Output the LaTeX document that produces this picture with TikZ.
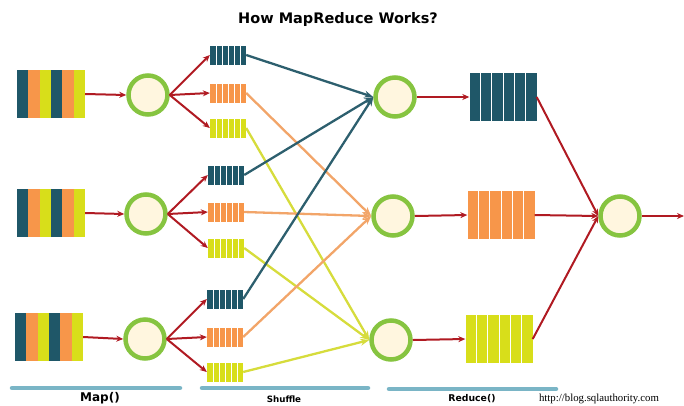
\documentclass[tikz,border=0pt]{standalone}
\usepackage{fontspec}
\newfontfamily\dejavu{DejaVu Sans}
\newfontfamily\libserif{Liberation Serif}
\usetikzlibrary{arrows.meta,calc}
\definecolor{cteal}{RGB}{31,87,104}
\definecolor{corange}{RGB}{247,150,74}
\definecolor{cyellow}{RGB}{216,222,26}
\definecolor{cgreen}{RGB}{134,196,64}
\definecolor{ccream}{RGB}{255,246,223}
\definecolor{cred}{RGB}{176,26,34}
\definecolor{cbar}{RGB}{122,181,198}
\definecolor{lteal}{RGB}{45,95,110}
\definecolor{lorange}{RGB}{242,165,105}
\definecolor{lyellow}{RGB}{214,220,60}
\begin{document}
\begin{tikzpicture}[x=1pt,y=-1pt,
  inblock/.style={minimum width=68pt, minimum height=48pt, inner sep=0pt,
    path picture={
      \foreach \c [count=\i from 0] in {cteal,corange,cyellow,cteal,corange,cyellow}
        \fill[\c] ($(path picture bounding box.north west)!{\i/6}!(path picture bounding box.north east)$)
          rectangle ($(path picture bounding box.south west)!{(\i+1)/6}!(path picture bounding box.south east)$);
    }},
  qbox/.style={fill=#1, minimum width=36pt, minimum height=19pt, inner sep=0pt,
    path picture={
      \foreach \i in {1,...,5}
        \draw[white, line width=1pt] ($(path picture bounding box.north west)!{\i/6}!(path picture bounding box.north east)$)
          -- ($(path picture bounding box.south west)!{\i/6}!(path picture bounding box.south east)$);
    }},
  rbox/.style={qbox=#1, minimum width=67pt, minimum height=48pt},
  procc/.style={circle, draw=cgreen, line width=4.5pt, fill=ccream, minimum size=39pt, inner sep=0pt},
  redarrow/.style={draw=cred, line width=2pt, -{Stealth[length=7pt,width=6pt]}},
  shufline/.style={draw=#1, line width=2.3pt, -{Stealth[length=9pt,width=7pt]}},
  bar/.style={draw=cbar, line width=4.5pt, line cap=round},
  lbl/.style={font=\dejavu\bfseries, inner sep=0pt}
]
\useasboundingbox (0,0) rectangle (684,405);
% title
\node[lbl, font=\dejavu\bfseries\fontsize{14.5}{16}\selectfont] (title) at (338,19) {How MapReduce Works?};
% inputs
\node[inblock] (in1) at (51,94) {};
\node[inblock] (in2) at (51,213) {};
\node[inblock] (in3) at (49,337) {};
% map circles
\node[procc] (m1) at (148,95) {};
\node[procc] (m2) at (146,214) {};
\node[procc] (m3) at (145,339) {};
% shuffle boxes
\node[qbox=cteal] (s11) at (228,55) {};
\node[qbox=corange] (s12) at (228,93) {};
\node[qbox=cyellow] (s13) at (228,128) {};
\node[qbox=cteal] (s21) at (226,175) {};
\node[qbox=corange] (s22) at (226,212) {};
\node[qbox=cyellow] (s23) at (226,248) {};
\node[qbox=cteal] (s31) at (225,299) {};
\node[qbox=corange] (s32) at (225,337) {};
\node[qbox=cyellow] (s33) at (225,372) {};
% reduce circles
\node[procc] (r1) at (395,97) {};
\node[procc] (r2) at (393,216) {};
\node[procc] (r3) at (391,340) {};
% reduce boxes
\node[rbox=cteal] (b1) at (503,97) {};
\node[rbox=corange] (b2) at (501,215) {};
\node[rbox=cyellow] (b3) at (499,339) {};
% final
\node[procc] (f) at (620,216) {};
\coordinate (out) at (684,216);
% shuffle lines
\foreach \g in {1,2,3} {
  \draw[shufline=lteal] (s\g1.east) -- (r1.west);
  \draw[shufline=lorange] (s\g2.east) -- (r2.west);
  \draw[shufline=lyellow] (s\g3.east) -- (r3.west);
}
% red arrows
\foreach \g in {1,2,3} {
  \draw[redarrow] (in\g.east) -- (m\g.west);
  \draw[redarrow] (m\g.east) -- (s\g1.west);
  \draw[redarrow] (m\g.east) -- (s\g2.west);
  \draw[redarrow] (m\g.east) -- (s\g3.west);
  \draw[redarrow] (r\g.east) -- (b\g.west);
  \draw[redarrow] (b\g.east) -- (f.west);
}
\draw[redarrow] (f.east) -- (out);
% bars
\draw[bar] (12,388) -- (180,388);
\draw[bar] (202,388) -- (368,388);
\draw[bar] (389,389) -- (556,389);
% labels
\node[lbl, font=\dejavu\bfseries\fontsize{12}{13}\selectfont] (maplbl) at (100,398) {Map()};
\node[lbl, font=\dejavu\bfseries\fontsize{8.7}{10}\selectfont] (shuflbl) at (284,399) {Shuffle};
\node[lbl, font=\dejavu\bfseries\fontsize{9.3}{10}\selectfont] (redlbl) at (472,399) {Reduce()};
\node[inner sep=0pt, font=\libserif\fontsize{10.8}{12}\selectfont] (url) at (599,399) {http://blog.sqlauthority.com};
\end{tikzpicture}
\end{document}
